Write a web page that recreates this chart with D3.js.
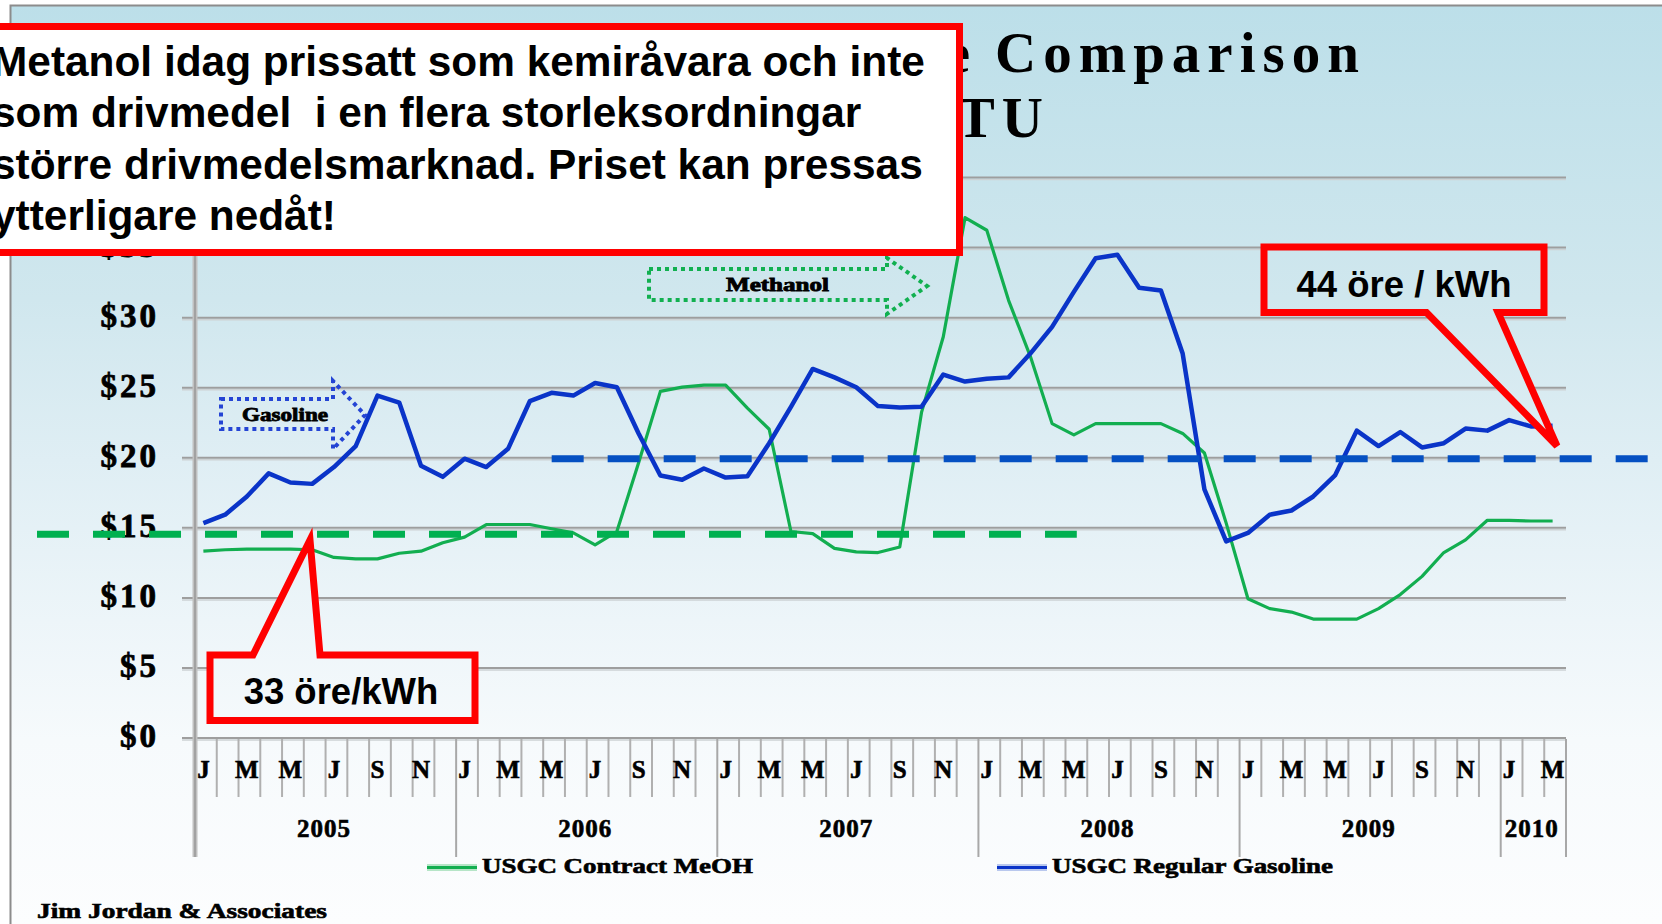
<!DOCTYPE html>
<html>
<head>
<meta charset="utf-8">
<script src="https://cdn.jsdelivr.net/npm/d3@7"></script>
<style>
  html, body { margin: 0; padding: 0; background: #fff; }
  svg { display: block; }
</style>
</head>
<body>
<svg id="chart" width="1662" height="924"></svg>
<script>
// USGC prices, $ per MMBTU, monthly Jan 2005 - Mar 2010
var years = ["2005", "2006", "2007", "2008", "2009", "2010"];
var monthsPerYear = [12, 12, 12, 12, 12, 3];
var monthLetters = ["J", "F", "M", "A", "M", "J", "J", "A", "S", "O", "N", "D"];
var yTicks = [0, 5, 10, 15, 20, 25, 30, 35, 40];

var methanol = [13.3, 13.4, 13.45, 13.45, 13.45, 13.4, 12.85, 12.75, 12.75, 13.15, 13.3, 13.9,
                14.3, 15.2, 15.2, 15.2, 14.9, 14.6, 13.75, 14.7, 19.6, 24.7, 25.0, 25.15,
                25.15, 23.5, 22.0, 14.7, 14.55, 13.5, 13.25, 13.2, 13.6, 23.2, 28.6, 37.1,
                36.2, 31.2, 27.2, 22.4, 21.6, 22.4, 22.4, 22.4, 22.4, 21.7, 20.3, 15.3,
                9.9, 9.2, 8.95, 8.45, 8.45, 8.45, 9.2, 10.2, 11.5, 13.2, 14.1, 15.5,
                15.5, 15.45, 15.45];
var gasoline = [15.3, 15.9, 17.2, 18.85, 18.2, 18.1, 19.3, 20.8, 24.4, 23.9, 19.4, 18.6,
                19.9, 19.3, 20.6, 24.0, 24.6, 24.4, 25.3, 25.0, 21.7, 18.7, 18.4, 19.2,
                18.55, 18.65, 21.0, 23.6, 26.3, 25.7, 25.0, 23.65, 23.55, 23.6, 25.9, 25.4,
                25.6, 25.7, 27.4, 29.3, 31.8, 34.2, 34.45, 32.1, 31.9, 27.4, 17.7, 14.0,
                14.6, 15.9, 16.2, 17.2, 18.7, 21.9, 20.8, 21.8, 20.7, 21.0, 22.05, 21.9,
                22.65, 22.2, 22.25];

var seriesNames = ["USGC Contract MeOH", "USGC Regular Gasoline"];

// dashed price levels added on the slide, and the month span each one covers
var levelValues = [14.5, 19.9];
var levelFrom = [-7.26, 16.39];
var levelTo = [40.52, 68.5];

var noteLines = ["Metanol idag prissatt som kemiråvara och inte",
                 "som drivmedel  i en flera storleksordningar",
                 "större drivmedelsmarknad. Priset kan pressas",
                 "ytterligare nedåt!"];

var green = "#12ae50", blue = "#0a34c8";
var serif = "'Liberation Serif', 'Times New Roman', serif";
var sans = "'Liberation Sans', Arial, sans-serif";

var svg = d3.select("#chart");

var x = d3.scaleLinear().domain([0, 63]).range([195, 1566]);
var y = d3.scaleLinear().domain([0, 40]).range([737.5, 177]);
var mid = 0.385; // where a month's point sits inside its slot

var months = [];
years.forEach(function (yr, k) {
    for (var m = 0; m < monthsPerYear[k]; m++) months.push({ year: yr, m: m, i: months.length });
});
var yearStarts = Array.from(d3.cumsum([0].concat(monthsPerYear)));

// slide background
var defs = svg.append("defs");
var grad = defs.append("linearGradient").attr("id", "bg")
    .attr("gradientUnits", "userSpaceOnUse")
    .attr("x1", 0).attr("y1", 5).attr("x2", 0).attr("y2", 924);
[[0, "#bcdfe9"], [0.32, "#d0e7ee"], [0.495, "#dfeef4"], [0.67, "#edf5f9"], [0.8, "#f6fafc"], [1, "#fcfdfe"]]
    .forEach(function (s) { grad.append("stop").attr("offset", s[0]).attr("stop-color", s[1]); });

svg.append("rect").attr("x", 10.5).attr("y", 5.5).attr("width", 1700).attr("height", 1000)
    .attr("fill", "url(#bg)").attr("stroke", "#8c8c8c").attr("stroke-width", 2);

// title (mostly hidden behind the note box)
var titleFont = function (t) {
    t.attr("font-family", serif).attr("font-weight", "bold").attr("font-size", 57).attr("letter-spacing", 7);
};
svg.append("text").attr("x", 977).attr("y", 72).attr("text-anchor", "end")
    .call(titleFont).text("Methanol vs. Gasoline Price");
svg.append("text").attr("x", 995).attr("y", 72)
    .call(titleFont).text("Comparison");
svg.append("text").attr("x", 1050).attr("y", 137).attr("text-anchor", "end")
    .call(titleFont).text("$ per MMBTU");

// gridlines
svg.append("g").attr("transform", "translate(1566,2)")
    .call(d3.axisLeft(y).tickValues(yTicks).tickSize(1384).tickFormat(""))
    .call(function (g) { g.select(".domain").remove(); })
    .selectAll("line").attr("stroke", "#cdd2d4").attr("stroke-width", 1.5);
svg.append("g").attr("transform", "translate(1566,0)")
    .call(d3.axisLeft(y).tickValues(yTicks).tickSize(1384).tickFormat(""))
    .call(function (g) { g.select(".domain").remove(); })
    .selectAll("line").attr("stroke", "#9e9e9e").attr("stroke-width", 2);

// category ticks
svg.append("g").selectAll("line").data(d3.range(1, 63).filter(function (k) { return yearStarts.indexOf(k) < 0; }))
    .join("line")
    .attr("x1", function (k) { return x(k); }).attr("x2", function (k) { return x(k); })
    .attr("y1", 739).attr("y2", 797)
    .attr("stroke", "#b0b0b0").attr("stroke-width", 2);
svg.append("g").selectAll("line").data(yearStarts.slice(1))
    .join("line")
    .attr("x1", function (k) { return x(k); }).attr("x2", function (k) { return x(k); })
    .attr("y1", 739).attr("y2", 857)
    .attr("stroke", "#a8a8a8").attr("stroke-width", 2);

// value axis line
svg.append("line").attr("x1", x(0)).attr("x2", x(0)).attr("y1", y(40)).attr("y2", 857)
    .attr("stroke", "#c0c0c0").attr("stroke-width", 5);
svg.append("line").attr("x1", x(0)).attr("x2", x(0)).attr("y1", y(40)).attr("y2", 857)
    .attr("stroke", "#a2a2a2").attr("stroke-width", 2);

svg.append("g").attr("transform", "translate(195,0)")
    .call(d3.axisLeft(y).tickValues(yTicks).tickSize(0).tickPadding(36)
        .tickFormat(function (d) { return "$" + d; }))
    .call(function (g) { g.select(".domain").remove(); })
    .selectAll("text")
    .attr("dy", "0.28em")
    .attr("font-family", serif).attr("font-weight", "bold").attr("font-size", 33)
    .attr("letter-spacing", 3).attr("fill", "#000")
    .attr("stroke", "#000").attr("stroke-width", 0.8);

svg.append("g").selectAll("text").data(months.filter(function (d) { return d.m % 2 === 0; }))
    .join("text")
    .attr("x", function (d) { return x(d.i + mid); }).attr("y", 778)
    .attr("text-anchor", "middle")
    .attr("font-family", serif).attr("font-weight", "bold").attr("font-size", 25)
    .attr("stroke", "#000").attr("stroke-width", 0.6)
    .text(function (d) { return monthLetters[d.m]; });

svg.append("g").selectAll("text").data(years)
    .join("text")
    .attr("x", function (d, k) { return x((yearStarts[k] + yearStarts[k + 1]) / 2) - 1.5; })
    .attr("y", 837)
    .attr("text-anchor", "middle")
    .attr("font-family", serif).attr("font-weight", "bold").attr("font-size", 25)
    .attr("letter-spacing", 1).attr("stroke", "#000").attr("stroke-width", 0.6)
    .text(function (d) { return d; });

// series
var line = d3.line().x(function (d, i) { return x(i + mid); }).y(function (d) { return y(d); });
svg.append("path").datum(methanol).attr("d", line)
    .attr("fill", "none").attr("stroke", green).attr("stroke-width", 3.2).attr("stroke-linejoin", "round");
svg.append("path").datum(gasoline).attr("d", line)
    .attr("fill", "none").attr("stroke", blue).attr("stroke-width", 4.5).attr("stroke-linejoin", "round");

// dotted arrow labels
function blockArrow(x0, x1, xt, top, bot, htop, hbot) {
    var ym = (htop + hbot) / 2;
    return "M" + x0 + "," + top + "H" + x1 + "V" + htop + "L" + xt + "," + ym +
        "L" + x1 + "," + hbot + "V" + bot + "H" + x0 + "Z";
}
svg.append("path").attr("d", blockArrow(221, 333, 365, 399, 429, 381, 449))
    .attr("fill", "none").attr("stroke", "#2444d4").attr("stroke-width", 4).attr("stroke-dasharray", "4 4");
svg.append("text").attr("x", 242).attr("y", 421).attr("textLength", 86).attr("lengthAdjust", "spacingAndGlyphs")
    .attr("font-family", serif).attr("font-weight", "bold").attr("font-size", 18)
    .attr("stroke", "#000").attr("stroke-width", 0.8).text("Gasoline");
svg.append("path").attr("d", blockArrow(649, 887, 927, 269, 300, 258, 314))
    .attr("fill", "none").attr("stroke", "#11b050").attr("stroke-width", 4).attr("stroke-dasharray", "4 4");
svg.append("text").attr("x", 726).attr("y", 291).attr("textLength", 103).attr("lengthAdjust", "spacingAndGlyphs")
    .attr("font-family", serif).attr("font-weight", "bold").attr("font-size", 18)
    .attr("stroke", "#000").attr("stroke-width", 0.8).text("Methanol");

// dashed levels
var levelColors = ["#00b050", "#0550c2"];
svg.append("g").selectAll("line").data(levelValues)
    .join("line")
    .attr("x1", function (d, k) { return x(levelFrom[k]); })
    .attr("x2", function (d, k) { return x(levelTo[k]); })
    .attr("y1", function (d) { return y(d); }).attr("y2", function (d) { return y(d); })
    .attr("stroke", function (d, k) { return levelColors[k]; })
    .attr("stroke-width", 7).attr("stroke-dasharray", "32 24");

// legend
var legendX = [427, 997];
var legendLen = [271, 281];
var legendColors = [green, blue];
var legendHalo = ["#b6e5c7", "#b9c8ee"];
var lg = svg.append("g").selectAll("g").data(seriesNames).join("g");
lg.append("line").attr("x1", function (d, k) { return legendX[k]; })
    .attr("x2", function (d, k) { return legendX[k] + 50; })
    .attr("y1", 867.5).attr("y2", 867.5)
    .attr("stroke", function (d, k) { return legendHalo[k]; }).attr("stroke-width", 7);
lg.append("line").attr("x1", function (d, k) { return legendX[k]; })
    .attr("x2", function (d, k) { return legendX[k] + 50; })
    .attr("y1", 867.5).attr("y2", 867.5)
    .attr("stroke", function (d, k) { return legendColors[k]; }).attr("stroke-width", 3);
lg.append("text").attr("x", function (d, k) { return legendX[k] + 55; }).attr("y", 873)
    .attr("textLength", function (d, k) { return legendLen[k]; }).attr("lengthAdjust", "spacingAndGlyphs")
    .attr("font-family", serif).attr("font-weight", "bold").attr("font-size", 21)
    .attr("stroke", "#000").attr("stroke-width", 0.6)
    .text(function (d) { return d; });

svg.append("text").attr("x", 37).attr("y", 918).attr("textLength", 290).attr("lengthAdjust", "spacingAndGlyphs")
    .attr("font-family", serif).attr("font-weight", "bold").attr("font-size", 21)
    .attr("stroke", "#000").attr("stroke-width", 0.6).text("Jim Jordan & Associates");

// red callouts
svg.append("path")
    .attr("d", "M1264,247H1544V312.5H1498L1557,446L1426.5,312.5H1264Z")
    .attr("fill", "url(#bg)").attr("stroke", "#ff0000").attr("stroke-width", 7);
svg.append("text").attr("x", 1404).attr("y", 297).attr("text-anchor", "middle")
    .attr("font-family", sans).attr("font-weight", "bold").attr("font-size", 36.5)
    .text("44 öre / kWh");

svg.append("path")
    .attr("d", "M210,655H253L310,540L320,655H475V720.5H210Z")
    .attr("fill", "url(#bg)").attr("stroke", "#ff0000").attr("stroke-width", 7);
svg.append("text").attr("x", 341).attr("y", 704).attr("text-anchor", "middle")
    .attr("font-family", sans).attr("font-weight", "bold").attr("font-size", 36.5)
    .text("33 öre/kWh");

// note box
svg.append("rect").attr("x", -20).attr("y", 26.5).attr("width", 979.5).attr("height", 226)
    .attr("fill", "#fff").attr("stroke", "#ff0000").attr("stroke-width", 7);
svg.append("g").selectAll("text").data(noteLines)
    .join("text")
    .attr("x", -8).attr("y", function (d, k) { return 76 + k * 51.3; })
    .attr("font-family", sans).attr("font-weight", "bold").attr("font-size", 42.4)
    .attr("fill", "#000").attr("xml:space", "preserve").style("white-space", "pre")
    .text(function (d) { return d; });
</script>
</body>
</html>
